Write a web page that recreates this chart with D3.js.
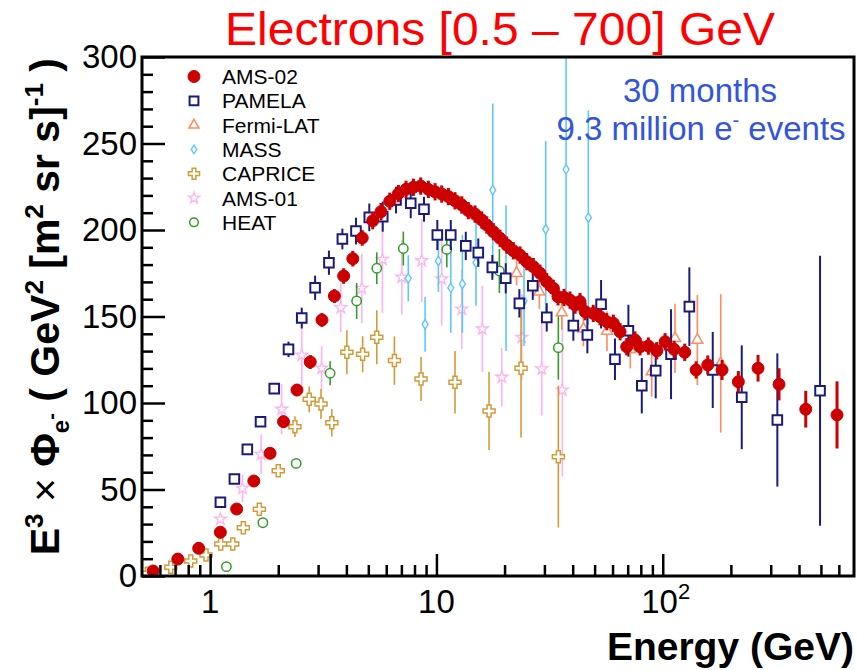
<!DOCTYPE html>
<html>
<head>
<meta charset="utf-8">
<script src="https://cdn.jsdelivr.net/npm/d3@7"></script>
<style>
  body { margin: 0; background: #fff; }
  svg { display: block; font-family: "Liberation Sans", Arial, Helvetica, sans-serif; }
</style>
</head>
<body>
<svg id="chart"></svg>
<script>
// values: energy (GeV), E^3 x flux, error
const ams02E = [0.56,0.72,0.89,1.11,1.31,1.56,1.84,2.11,2.42,2.77,3.12,3.54,3.89,4.27,4.70,5.23,5.69,6.22,6.79,7.34,7.91,8.52,9.21,9.86,10.55,11.29,12.08,12.94,13.83,14.81,15.86,16.69,17.84,19.10,20.45,21.87,23.41,25.06,26.81,28.70,30.72,32.86,34.46,36.62,38.9,41.0,43.1,45.4,49.3,52.8,56.6,60.5,64.8,69.3,75.4,79.4,86.4,94.1,102.4,112.2,125.1,140.4,158.1,182.8,215.8,263.7,326.4,428.5,589];
const ams02V = [2.9,9.8,16.0,25.3,38.7,54.9,70.9,89.2,107.5,123.7,148.0,161.8,173.4,183.4,195.4,205.4,210.6,216.6,221.0,223.5,224.7,225.4,223.5,222.1,220.8,219.3,216.9,214.5,211.2,209.2,205.8,202.9,199.0,195.2,191.3,188.0,185.5,181.7,178.8,175.0,170.1,166.3,161.4,161.0,159.5,156.6,158.6,152.8,151.8,149.9,147.0,146.1,141.2,132.5,136.4,132.5,132.9,130.2,135.4,131.0,129.3,119.1,122.0,119.1,112.3,120.1,110.8,96.4,93.1];
const ams02Err = [1,1,1.5,2,2,2.5,3,3.5,3.5,4,4,4,4.5,4.5,4.5,5,5,5,5,5,5,5,5,5,5,5,5,5,5,5,5,5,5,5,5,5,5,5,5,5,5,5,5,5,5,5,5,5,5,5,5,5,5,5,5,5,5,5,5,5,5,5,5.5,5.8,6.2,7.7,9.3,10.6,19.4];

const pamelaE = [1.11,1.28,1.46,1.67,1.92,2.22,2.54,2.91,3.35,3.84,4.41,5.05,5.79,6.63,7.70,8.81,10.09,11.57,13.48,15.31,17.66,20.24,23.25,26.65,30.72,40.27,46.44,53.4,61.5,70.5,80.8,93.1,108.8,131.1,166.3,223.4,320.9,495.5];
const pamelaV = [42.6,56.1,73.2,89.2,108.3,131.0,149.1,166.6,181.1,194.8,199.4,207.3,207.7,217.3,215.5,212.0,197.1,197.1,190.8,186.9,178.4,172.1,157.6,167.8,149.5,144.7,139.3,157.1,125.3,141.8,110.0,118.7,128.2,155.7,119.1,103.3,90.2,107.1];
const pamelaErr = [1,1,1.5,3,2,4.5,6,7,7,6,7.7,8,8.7,7.7,8.7,7.2,8.7,8.7,8.2,8.2,7.2,8.7,8.2,8.2,8.2,8.7,10.6,14,12,15,16,16,26,22.7,22,30,38.5,78];

const fermiE = [22.6,28.5,35.8,44.6,56.7,71.9,89.4,113.3,142.2,180.4];
const fermiV = [175.0,164.3,152.3,142.8,141.6,131.0,118.1,137.4,136.4,122.9];
const fermiErr = [7,10,10,10,11.5,11,14.4,20,26,40];

const massE = [7.51,8.91,10.2,11.57,13.02,14.96,17.74,20.3,24.38,30.4,37.4,46.9];
const massV = [172.1,145.5,182.1,166.6,168.8,181.1,223.1,172.1,159.0,200.4,235.1,207.1];
const massErr = [13.3,15.9,17.9,26,28.3,24.9,50,42,26,51,72,62];

const capriceE = [0.528,0.670,0.821,0.959,1.114,1.259,1.402,1.65,2.0,2.37,2.74,3.09,3.45,4.02,4.72,5.45,6.52,8.55,12.08,17.08,23.65,34.57];
const capriceV = [1.6,5.0,8.7,12.1,18.5,18.5,27.9,38.6,60.9,86.3,102.1,99.4,88.6,129.3,128.2,138.0,124.5,113.9,112.0,95.4,120.1,69.0];
const capriceErr = [0,0,0,0,0,0,0,0,1,6,7.5,8.7,8,12.7,10.4,15.6,14,12.7,18,22.5,40,41];

const ams01E = [1.11,1.39,1.68,2.07,2.54,3.11,3.78,4.68,5.77,7.03,8.61,10.55,12.94,15.95,19.44,23.83,29.2,36.0];
const ams01V = [32.9,50.7,70.3,96.4,127.7,120.1,155.1,166.3,183.1,172.7,182.3,171.7,154.3,142.8,114.9,138.0,119.7,107.5];
const ams01Err = [2,8,11.5,14.5,19,12.7,14,20,31,21.5,24,27,23,25,17,25,27,50];

const heatE = [1.18,1.71,2.40,3.39,4.44,5.45,7.14,11.11,18.97,34.57];
const heatV = [5.4,30.8,65.1,117.2,159.0,177.9,189.3,188.8,176.3,132.0];
const heatErr = [0,1,2,7,10.4,9.2,9.8,10.4,12.7,18.5];

const legendNames = ["AMS-02", "PAMELA", "Fermi-LAT", "MASS", "CAPRICE", "AMS-01", "HEAT"];
const yTicks = [0, 50, 100, 150, 200, 250, 300];
const xMajor = [1, 10, 100];

const width = 857, height = 670;
const plot = { left: 142, right: 854, top: 57, bottom: 576 };

const svg = d3.select("#chart").attr("width", width).attr("height", height);

const x = d3.scaleLog().domain([0.5, 700]).range([plot.left, plot.right]);
const y = d3.scaleLinear().domain([0, 300]).range([plot.bottom, plot.top]);

// tall narrow diamond like the ROOT open diamond
const tallDiamond = {
  draw(ctx, size) {
    const h = Math.sqrt(size) * 0.9, w = h * 0.62;
    ctx.moveTo(0, -h); ctx.lineTo(w, 0); ctx.lineTo(0, h); ctx.lineTo(-w, 0); ctx.closePath();
  }
};

const series = {
  "AMS-02":    { E: ams02E, V: ams02V, err: ams02Err, color: "#cc0000", type: d3.symbolCircle, size: 113, filled: true, bar: 3, sw: 1 },
  "PAMELA":    { E: pamelaE, V: pamelaV, err: pamelaErr, color: "#1b1b7e", type: d3.symbolSquare, size: 92, filled: false, bar: 2, sw: 2 },
  "Fermi-LAT": { E: fermiE, V: fermiV, err: fermiErr, color: "#ff8c5e", type: d3.symbolTriangle, size: 52, filled: false, bar: 1.6, sw: 1.5 },
  "MASS":      { E: massE, V: massV, err: massErr, color: "#5cc8fa", type: tallDiamond, size: 28, filled: false, bar: 1.6, sw: 1.4 },
  "CAPRICE":   { E: capriceE, V: capriceV, err: capriceErr, color: "#d39b38", type: d3.symbolCross, size: 80, filled: false, bar: 1.6, sw: 1.5 },
  "AMS-01":    { E: ams01E, V: ams01V, err: ams01Err, color: "#ffb4f0", type: d3.symbolStar, size: 45, filled: false, bar: 1.6, sw: 1.3 },
  "HEAT":      { E: heatE, V: heatV, err: heatErr, color: "#2f9e22", type: d3.symbolCircle, size: 69, filled: false, bar: 1.6, sw: 1.5 }
};
const drawOrder = ["AMS-01", "MASS", "CAPRICE", "HEAT", "Fermi-LAT", "PAMELA", "AMS-02"];

svg.append("defs").append("clipPath").attr("id", "clip")
  .append("rect")
  .attr("x", plot.left).attr("y", plot.top)
  .attr("width", plot.right - plot.left).attr("height", plot.bottom - plot.top);

const dataG = svg.append("g").attr("clip-path", "url(#clip)");

drawOrder.forEach(name => {
  const s = series[name];
  const pts = s.E.map((e, i) => ({ e: e, v: s.V[i], err: s.err[i] }));
  const g = dataG.append("g").attr("class", "series");

  g.selectAll("line.err")
    .data(pts.filter(d => d.err > 0))
    .join("line")
    .attr("class", "err")
    .attr("x1", d => x(d.e)).attr("x2", d => x(d.e))
    .attr("y1", d => y(Math.max(0, d.v - d.err)))
    .attr("y2", d => y(d.v + d.err))
    .attr("stroke", s.color)
    .attr("stroke-width", s.bar);

  g.selectAll("path.mark")
    .data(pts)
    .join("path")
    .attr("class", "mark")
    .attr("transform", d => `translate(${x(d.e)},${y(d.v)})`)
    .attr("d", d3.symbol().type(s.type).size(s.size))
    .attr("fill", s.filled ? s.color : "white")
    .attr("stroke", s.color)
    .attr("stroke-width", s.sw);
});

// axes: ticks point inwards
const xMinor = [];
[0.1, 1, 10, 100].forEach(dec => {
  for (let k = 2; k <= 9; k++) {
    const v = dec * k;
    if (v > 0.5 && v < 700) xMinor.push(v);
  }
});
const yMinor = d3.range(0, 301, 10).filter(v => v % 50 !== 0);

function styleAxis(g) {
  g.select(".domain").remove();
  g.selectAll(".tick line").attr("stroke", "black").attr("stroke-width", 2.5);
}

svg.append("g")
  .attr("transform", `translate(0,${plot.bottom})`)
  .call(d3.axisBottom(x).tickValues(xMinor).tickSize(-11).tickFormat(""))
  .call(styleAxis);

svg.append("g")
  .attr("transform", `translate(0,${plot.bottom})`)
  .call(d3.axisBottom(x).tickValues(xMajor).tickSize(-22).tickFormat(""))
  .call(styleAxis);

svg.append("g")
  .attr("transform", `translate(${plot.left},0)`)
  .call(d3.axisLeft(y).tickValues(yMinor).tickSize(-11).tickFormat(""))
  .call(styleAxis);

svg.append("g")
  .attr("transform", `translate(${plot.left},0)`)
  .call(d3.axisLeft(y).tickValues(yTicks).tickSize(-23).tickPadding(5))
  .call(styleAxis)
  .call(g => g.selectAll("text")
    .attr("font-size", 33)
    .attr("font-family", "Liberation Sans, Arial, sans-serif")
    .attr("fill", "black"));

// x labels with 10^2
const xl = svg.append("g").attr("font-size", 33).attr("text-anchor", "middle");
xMajor.forEach(v => {
  const t = xl.append("text").attr("x", x(v)).attr("y", 613);
  if (v === 100) {
    t.attr("x", x(v) + 3);
    t.append("tspan").text("10");
    t.append("tspan").attr("dy", -14).attr("font-size", 22).text("2");
  } else {
    t.text(v);
  }
});

// frame
svg.append("rect")
  .attr("x", plot.left).attr("y", plot.top)
  .attr("width", plot.right - plot.left).attr("height", plot.bottom - plot.top)
  .attr("fill", "none").attr("stroke", "black").attr("stroke-width", 3);

// axis titles
svg.append("text")
  .attr("x", plot.right).attr("y", 660)
  .attr("text-anchor", "end")
  .attr("font-size", 39).attr("font-weight", "bold")
  .text("Energy (GeV)");

const yTitle = svg.append("text")
  .attr("transform", `translate(59,${plot.top + 1}) rotate(-90)`)
  .attr("text-anchor", "end")
  .attr("font-size", 41).attr("font-weight", "bold");

const yParts = [
  { t: "E", off: 0 },
  { t: "3", off: -16, fs: 26 },
  { t: " × ", off: 0, w: "normal" },
  { t: "Φ", off: 0 },
  { t: "e", off: 10, fs: 24 },
  { t: "-", off: -1, fs: 20 },
  { t: " ( GeV", off: 0 },
  { t: "2", off: -16, fs: 26 },
  { t: " [m", off: 0 },
  { t: "2", off: -16, fs: 26 },
  { t: " sr s]", off: 0 },
  { t: "-1", off: -16, fs: 26 },
  { t: " )", off: 0 }
];
let prevOff = 0;
yParts.forEach(p => {
  const ts = yTitle.append("tspan").attr("dy", p.off - prevOff).text(p.t);
  if (p.fs) ts.attr("font-size", p.fs);
  if (p.w) ts.attr("font-weight", p.w);
  prevOff = p.off;
});

// title
svg.append("text")
  .attr("x", 500).attr("y", 45)
  .attr("text-anchor", "middle")
  .attr("font-size", 47)
  .attr("fill", "#ff0000")
  .attr("textLength", 550).attr("lengthAdjust", "spacingAndGlyphs")
  .text("Electrons [0.5 – 700] GeV");

// annotation
const note = svg.append("g").attr("fill", "#3355dd").attr("font-size", 33).attr("text-anchor", "middle");
note.append("text").attr("x", 700).attr("y", 102).text("30 months");
const n2 = note.append("text").attr("x", 701).attr("y", 140);
n2.append("tspan").text("9.3 million e");
n2.append("tspan").attr("dy", -13).attr("font-size", 20).text("-");
n2.append("tspan").attr("dy", 13).text(" events");

// legend
const legend = svg.append("g").attr("transform", "translate(194,76.5)");
legendNames.forEach((name, i) => {
  const s = series[name];
  const row = legend.append("g").attr("transform", `translate(0,${i * 24.3})`);
  row.append("path")
    .attr("d", d3.symbol().type(s.type).size(name === "AMS-02" ? 113 : s.size * 0.85))
    .attr("fill", s.filled ? s.color : "white")
    .attr("stroke", s.color)
    .attr("stroke-width", s.sw);
  row.append("text")
    .attr("x", 28).attr("y", 7.5)
    .attr("font-size", 21)
    .attr("fill", "black")
    .text(name);
});
</script>
</body>
</html>
